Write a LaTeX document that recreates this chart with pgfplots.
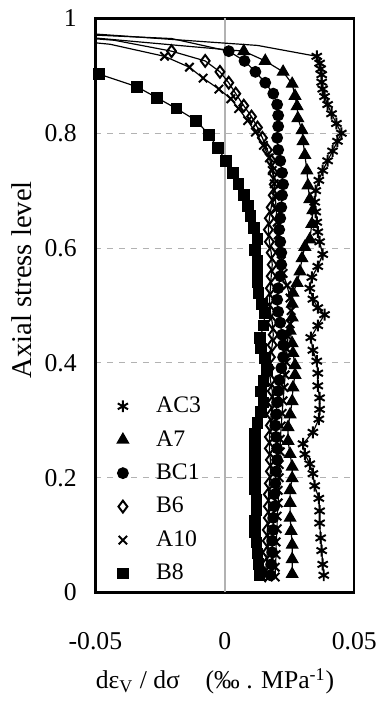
\documentclass[border=0pt]{standalone}
\usepackage{fontspec}
\setmainfont{Liberation Serif}
\usepackage{pgfplots}
\pgfplotsset{compat=1.18}
\begin{document}
\begin{tikzpicture}
\begin{axis}[
  scale only axis, width=131.2pt, height=290.9pt,
  xmin=-0.05, xmax=0.05, ymin=0, ymax=1,
  scaled x ticks=false, scaled y ticks=false,
  xtick={-0.05,0,0.05}, xticklabels={-0.05,0,0.05},
  ytick={0,0.2,0.4,0.6,0.8,1}, yticklabels={0,0.2,0.4,0.6,0.8,1},
  major tick length=0pt,
  ymajorgrids, grid style={dashed, gray!60, line width=0.4pt},
  axis line style={line width=1.2pt},
  tick label style={font=\fontsize{13}{15}\selectfont},
  xticklabel style={yshift=-16.5pt},
  yticklabel style={xshift=-6pt},
  xlabel={dε\textsubscript{V} / dσ\quad (‰ . MPa\textsuperscript{-1})},
  xlabel style={at={(axis description cs:0.462,-0.155)}, anchor=center, font=\fontsize{13}{15}\selectfont},
  ylabel={Axial stress level},
  ylabel style={at={(axis description cs:-0.285,0.545)}, rotate=0, anchor=center, font=\fontsize{14.5}{16}\selectfont},
  legend style={draw=none, fill=none, at={(rel axis cs:0.06,0.355)}, anchor=north west,
    font=\fontsize{12}{14}\selectfont, row sep=3.5pt,
    /tikz/every odd column/.append style={column sep=12pt}},
  legend cell align=left,
  every axis plot/.append style={black, line width=0.6pt},
  mark options={solid},
]
\draw[gray!60, line width=0.8pt] (axis cs:0,0) -- (axis cs:0,1);

\addlegendimage{only marks, mark=asterisk, mark size=3pt, line width=1pt}
\addlegendentry{AC3}
\addlegendimage{only marks, mark=triangle*, mark size=3.3pt}
\addlegendentry{A7}
\addlegendimage{only marks, mark=*, mark size=2.7pt}
\addlegendentry{BC1}
\addlegendimage{only marks, mark=diamond, mark size=3pt, mark options={fill=white}, line width=1pt}
\addlegendentry{B6}
\addlegendimage{only marks, mark=x, mark size=3pt, line width=1pt}
\addlegendentry{A10}
\addlegendimage{only marks, mark=square*, mark size=2.7pt}
\addlegendentry{B8}

% AC3
\addplot[forget plot, mark=asterisk, mark size=3pt, mark phase=2, mark repeat=1, mark options={line width=1pt}] coordinates {
(-0.06,0.976) (0.0126,0.953) (0.0355,0.934) (0.0366,0.922) (0.037,0.912) (0.0374,0.902) (0.0374,0.889) (0.0378,0.877) (0.0385,0.864) (0.0397,0.850) (0.0412,0.834) (0.0431,0.817) (0.045,0.800) (0.0435,0.786) (0.0416,0.769) (0.0397,0.752) (0.0378,0.735) (0.0363,0.718) (0.0351,0.700) (0.0347,0.680) (0.0351,0.663) (0.0355,0.645) (0.0359,0.628) (0.0366,0.611) (0.0378,0.589) (0.0359,0.568) (0.0336,0.549) (0.0328,0.530) (0.034,0.511) (0.0359,0.496) (0.0385,0.484) (0.0359,0.465) (0.0332,0.444) (0.034,0.422) (0.0355,0.403) (0.0359,0.382) (0.0359,0.360) (0.0366,0.339) (0.0366,0.319) (0.0363,0.302) (0.034,0.279) (0.0302,0.259) (0.0309,0.241) (0.0328,0.224) (0.034,0.207) (0.0347,0.186) (0.0363,0.164) (0.0366,0.142) (0.0366,0.121) (0.037,0.095) (0.0374,0.073) (0.0378,0.049) (0.0382,0.030)
};
% A7
\addplot[forget plot, mark=triangle*, mark size=3.3pt, mark phase=2, mark repeat=1] coordinates {
(-0.06,0.970) (-0.013,0.951) (0.0073,0.943) (0.0156,0.926) (0.0225,0.907) (0.026,0.886) (0.0271,0.865) (0.0279,0.847) (0.0282,0.826) (0.0298,0.805) (0.0302,0.786) (0.0309,0.762) (0.0317,0.735) (0.0321,0.709) (0.0328,0.685) (0.034,0.666) (0.0336,0.642) (0.0328,0.615) (0.0309,0.602) (0.0298,0.582) (0.029,0.559) (0.0279,0.539) (0.0263,0.522) (0.026,0.503) (0.026,0.479) (0.0252,0.456) (0.026,0.434) (0.0263,0.417) (0.0271,0.396) (0.0271,0.379) (0.0263,0.357) (0.026,0.333) (0.0252,0.310) (0.0244,0.288) (0.0244,0.264) (0.0252,0.241) (0.026,0.219) (0.026,0.199) (0.0252,0.178) (0.0252,0.156) (0.0252,0.130) (0.0256,0.107) (0.026,0.083) (0.026,0.058) (0.026,0.032)
};
% BC1
\addplot[forget plot, mark=*, mark size=2.7pt, mark phase=2, mark repeat=1] coordinates {
(-0.06,0.973) (-0.0206,0.965) (0.0015,0.943) (0.0076,0.926) (0.0118,0.907) (0.0156,0.888) (0.0187,0.869) (0.0202,0.850) (0.0206,0.831) (0.0206,0.812) (0.0202,0.792) (0.0206,0.771) (0.0214,0.752) (0.0221,0.731) (0.0225,0.711) (0.0221,0.692) (0.0218,0.671) (0.0214,0.652) (0.021,0.632) (0.0214,0.611) (0.0218,0.592) (0.0218,0.571) (0.0214,0.551) (0.0206,0.530) (0.0202,0.510) (0.0206,0.489) (0.0214,0.470) (0.0221,0.449) (0.0225,0.431) (0.0225,0.410) (0.0218,0.391) (0.021,0.370) (0.0206,0.351) (0.0202,0.331) (0.0198,0.310) (0.0195,0.291) (0.0198,0.271) (0.0202,0.251) (0.0202,0.231) (0.0198,0.211) (0.0195,0.190) (0.0191,0.171) (0.0191,0.150) (0.0187,0.130) (0.0187,0.109) (0.0183,0.090) (0.0183,0.070) (0.0179,0.049) (0.0176,0.030)
};
% B6
\addplot[forget plot, mark=diamond, mark size=3pt, mark phase=2, mark repeat=1, mark options={fill=white, line width=1pt}] coordinates {
(-0.06,0.968) (-0.0427,0.962) (-0.0206,0.943) (-0.0076,0.926) (-0.0019,0.907) (0.0015,0.888) (0.0042,0.869) (0.0073,0.848) (0.0103,0.829) (0.0126,0.810) (0.0145,0.792) (0.0164,0.771) (0.0179,0.752) (0.0187,0.731) (0.0191,0.711) (0.0187,0.692) (0.0179,0.671) (0.0172,0.652) (0.0168,0.632) (0.0172,0.611) (0.0179,0.592) (0.0183,0.571) (0.0179,0.551) (0.0176,0.530) (0.0172,0.510) (0.0176,0.489) (0.0183,0.470) (0.0187,0.449) (0.0183,0.431) (0.0176,0.410) (0.0172,0.391) (0.0176,0.370) (0.0183,0.351) (0.0183,0.331) (0.0179,0.310) (0.0176,0.291) (0.0172,0.271) (0.0172,0.251) (0.0176,0.231) (0.0176,0.211) (0.0172,0.190) (0.0168,0.171) (0.0168,0.150) (0.0168,0.130) (0.0164,0.109) (0.0164,0.090) (0.0164,0.070) (0.016,0.049) (0.0156,0.030)
};
% A10
\addplot[forget plot, mark=x, mark size=3pt, mark phase=2, mark repeat=1, mark options={line width=1pt}] coordinates {
(-0.06,0.962) (-0.0443,0.955) (-0.0233,0.934) (-0.0137,0.915) (-0.0084,0.896) (-0.0023,0.877) (0.0023,0.860) (0.0053,0.843) (0.0088,0.822) (0.0118,0.802) (0.0149,0.779) (0.0172,0.757) (0.0183,0.735) (0.0191,0.712) (0.0195,0.690) (0.0198,0.668) (0.0202,0.645) (0.0206,0.623) (0.021,0.601) (0.0218,0.578) (0.0225,0.556) (0.024,0.535) (0.0252,0.513) (0.0256,0.491) (0.0252,0.468) (0.0244,0.446) (0.024,0.424) (0.0237,0.401) (0.0233,0.379) (0.0229,0.357) (0.0225,0.334) (0.0221,0.312) (0.0218,0.290) (0.0214,0.267) (0.0214,0.245) (0.021,0.223) (0.021,0.200) (0.0206,0.178) (0.0206,0.156) (0.0202,0.133) (0.0202,0.111) (0.0198,0.088) (0.0198,0.066) (0.0195,0.044) (0.0195,0.027)
};
% B8
\addplot[forget plot, mark=square*, mark size=2.7pt] coordinates {
(-0.0485,0.903) (-0.034,0.881) (-0.0263,0.862) (-0.0187,0.843) (-0.011,0.822) (-0.0061,0.797) (-0.0027,0.774) (0.0004,0.752) (0.003,0.731) (0.0053,0.711) (0.0073,0.692) (0.0088,0.673) (0.0099,0.656) (0.0111,0.635) (0.0126,0.616) (0.0115,0.597) (0.0126,0.577) (0.0126,0.560) (0.0126,0.541) (0.013,0.522) (0.0145,0.503) (0.0156,0.486) (0.0149,0.465) (0.0137,0.444) (0.0141,0.425) (0.0156,0.408) (0.0164,0.388) (0.0149,0.369) (0.0141,0.350) (0.0149,0.331) (0.0141,0.314) (0.0126,0.295) (0.0118,0.276) (0.0118,0.257) (0.0118,0.238) (0.0118,0.219) (0.0118,0.200) (0.0118,0.181) (0.0122,0.161) (0.0122,0.144) (0.0118,0.125) (0.0118,0.106) (0.0122,0.087) (0.0126,0.068) (0.013,0.049) (0.0134,0.030)
};
\end{axis}
\path (-48.35pt,-50.25pt) rectangle (142.2pt,300.25pt);
\end{tikzpicture}
\end{document}
